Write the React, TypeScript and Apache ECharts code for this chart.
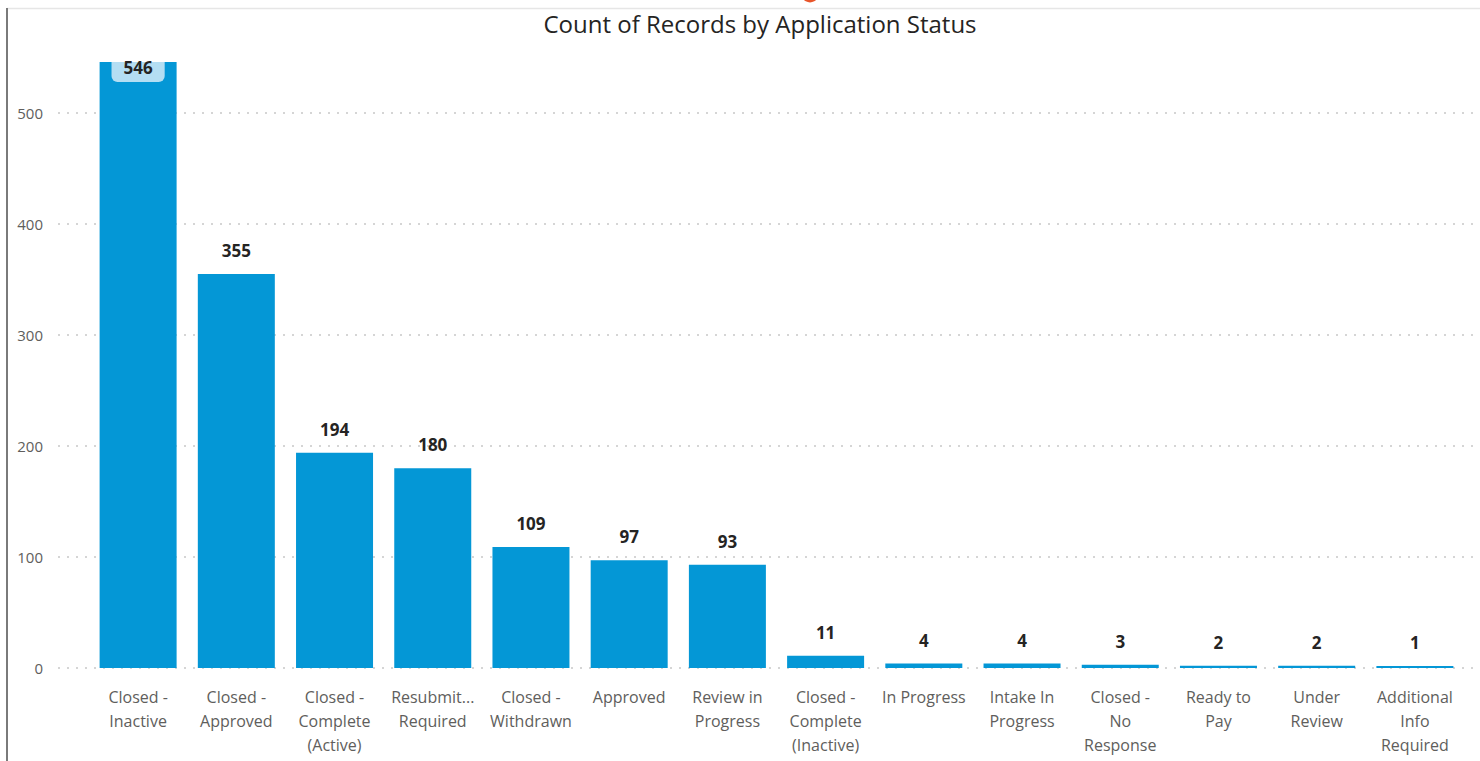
import React, { useEffect, useRef } from "react";
import * as echarts from "echarts";

const categories: string[] = [
  "Closed -\nInactive",
  "Closed -\nApproved",
  "Closed -\nComplete\n(Active)",
  "Resubmit...\nRequired",
  "Closed -\nWithdrawn",
  "Approved",
  "Review in\nProgress",
  "Closed -\nComplete\n(Inactive)",
  "In Progress",
  "Intake In\nProgress",
  "Closed -\nNo\nResponse",
  "Ready to\nPay",
  "Under\nReview",
  "Additional\nInfo\nRequired",
];

const counts: number[] = [546, 355, 194, 180, 109, 97, 93, 11, 4, 4, 3, 2, 2, 1];

const yMax = 550;
const yInterval = 100;

const FONT = "'Open Sans', 'Noto Sans', sans-serif";

export default function App() {
  const ref = useRef<HTMLDivElement>(null);
  useEffect(() => {
    if (!ref.current) return;
    const chart = echarts.init(ref.current, undefined, { renderer: "svg" });
    const maxVal = Math.max(...counts);
    const data = counts.map((v) =>
      v === maxVal
        ? {
            value: v,
            label: {
              position: "insideTop",
              distance: 0,
              lineHeight: 12,
              backgroundColor: "#b4def3",
              borderRadius: [0, 0, 6, 6],
              padding: [0, 12, 8, 12],
            },
          }
        : v
    );
    chart.setOption({
      animation: false,
      backgroundColor: "#ffffff",
      title: {
        text: "Count of Records by Application Status",
        left: 755,
        textAlign: "center",
        top: 6,
        textStyle: {
          fontFamily: FONT,
          fontSize: 24,
          fontWeight: "normal",
          color: "#252423",
        },
      },
      graphic: [
        {
          type: "line",
          shape: { x1: 7, y1: 8.5, x2: 1480, y2: 8.5 },
          style: { stroke: "#e6e6e6", lineWidth: 1.5 },
        },
        {
          type: "line",
          shape: { x1: 7, y1: 8, x2: 7, y2: 761 },
          style: { stroke: "#7a7a7a", lineWidth: 2 },
        },
        {
          type: "circle",
          shape: { cx: 810, cy: -6, r: 8.5 },
          style: { fill: "#e8552a" },
        },
      ],
      grid: [
        { left: 58, right: 0, top: 668 - yMax * 1.11, bottom: 761 - 668 },
        { left: 89, right: 16, top: 668 - yMax * 1.11, bottom: 761 - 668 },
      ],
      xAxis: [
        { type: "category", gridIndex: 0, data: ["x"], show: false },
        {
          type: "category",
          gridIndex: 1,
          data: categories,
          axisLine: { show: false },
          axisTick: { show: false },
          axisLabel: {
            interval: 0,
            margin: 17,
            fontFamily: FONT,
            fontSize: 16,
            lineHeight: 24,
            color: "#605e5c",
          },
        },
      ],
      yAxis: [
        {
          type: "value",
          gridIndex: 0,
          min: 0,
          max: yMax,
          interval: yInterval,
          axisLine: { show: false },
          axisTick: { show: false },
          axisLabel: {
            margin: 15,
            showMaxLabel: false,
            fontFamily: FONT,
            fontSize: 15,
            color: "#605e5c",
          },
          splitLine: {
            showMaxLine: false,
            lineStyle: { color: "#c8c8c8", type: [2, 7], width: 1.5 },
          },
        },
        {
          type: "value",
          gridIndex: 1,
          min: 0,
          max: yMax,
          interval: yInterval,
          show: false,
          splitLine: { show: false },
        },
      ],
      series: [
        {
          type: "bar",
          xAxisIndex: 1,
          yAxisIndex: 1,
          data,
          barMinHeight: 2,
          barCategoryGap: "21.6%",
          itemStyle: { color: "#0497d6" },
          label: {
            show: true,
            position: "top",
            distance: 15,
            fontFamily: FONT,
            fontSize: 17,
            fontWeight: "bold",
            color: "#252423",
          },
        },
      ],
    });
    return () => chart.dispose();
  }, []);
  return (
    <div
      ref={ref}
      style={{ position: "fixed", left: 0, top: 0, width: 1480, height: 761 }}
    />
  );
}
